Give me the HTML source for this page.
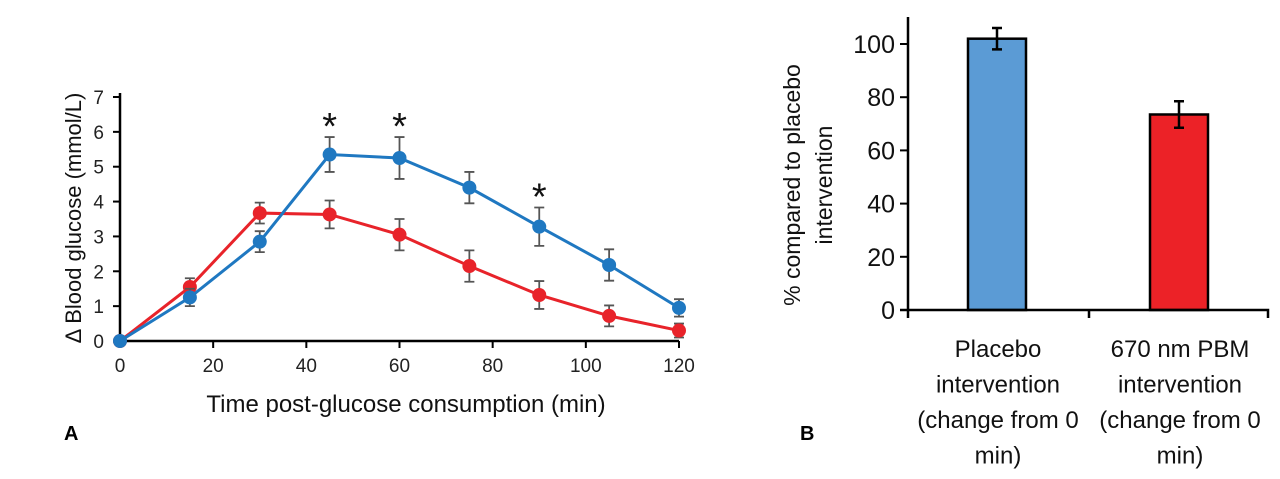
<!DOCTYPE html>
<html><head><meta charset="utf-8"><style>
body{margin:0;background:#fff;}
svg{display:block;font-family:"Liberation Sans",sans-serif;}
</style></head><body>
<svg id="c" width="1280" height="479"></svg>
<script>
const times=[0,15,30,45,60,75,90,105,120];
const placebo=[0,1.25,2.85,5.35,5.25,4.4,3.28,2.18,0.95];
const placeboErr=[0,0.25,0.3,0.5,0.6,0.45,0.55,0.45,0.25];
const pbm=[0,1.55,3.67,3.63,3.05,2.15,1.32,0.72,0.3];
const pbmErr=[0,0.25,0.3,0.4,0.45,0.45,0.4,0.3,0.2];
const sigTimes=[45,60,90];
const xTicksA=[0,20,40,60,80,100,120];
const yTicksA=[0,1,2,3,4,5,6,7];
const barCats=["Placebo","670 nm PBM"];
const barVals=[102,73.5];
const barErr=[4,5];
const yTicksB=[0,20,40,60,80,100];

const NS="http://www.w3.org/2000/svg";
const svg=document.getElementById('c');
function mk(t,a,txt,p){const e=document.createElementNS(NS,t);for(const k in a)e.setAttribute(k,a[k]);if(txt!=null)e.textContent=txt;(p||svg).appendChild(e);return e;}
const xA=v=>120+v*(679-120)/120;
const yA=v=>341-v*(341-97)/7;
const yB=v=>310-v*(310-44)/100;

// Chart A
let g=mk('g',{});


let ax=mk('path',{d:`M120 93V341H679`,stroke:'#000','stroke-width':2.5,fill:'none'},null,g);


yTicksA.forEach(v=>{mk('line',{x1:113,x2:120,y1:yA(v),y2:yA(v),stroke:'#000','stroke-width':2},null,g);
 const t=mk('text',{x:104,y:yA(v)+7,'text-anchor':'end','font-size':19,fill:'#222'},v,g);
 
 });
xTicksA.forEach(v=>{mk('line',{x1:xA(v),x2:xA(v),y1:341,y2:348,stroke:'#000','stroke-width':2},null,g);
 const t=mk('text',{x:xA(v),y:372,'text-anchor':'middle','font-size':19,fill:'#222'},v,g);
 
 });
let t1=mk('text',{x:406,y:412,'text-anchor':'middle','font-size':24,fill:'#111'},'Time post-glucose consumption (min)',g);


let t2=mk('text',{transform:'translate(81,218) rotate(-90)','text-anchor':'middle','font-size':22,fill:'#111'},'Δ Blood glucose (mmol/L)',g);


function series(vals,errs,col,name){
 errs.forEach((e,i)=>{if(!e)return;const x=xA(times[i]);
  mk('path',{d:`M${x} ${yA(vals[i]+e)}V${yA(vals[i]-e)}M${x-5} ${yA(vals[i]+e)}h10M${x-5} ${yA(vals[i]-e)}h10`,stroke:'#555','stroke-width':1.8,fill:'none'},null,g);});
 const l=mk('polyline',{points:vals.map((v,i)=>xA(times[i])+','+yA(v)).join(' '),stroke:col,'stroke-width':3,fill:'none'},null,g);
 
 
 vals.forEach((v,i)=>{const c=mk('circle',{cx:xA(times[i]),cy:yA(v),r:7,fill:col},null,g);
  
  });
}
series(pbm,pbmErr,'#e8232a','pbm');
series(placebo,placeboErr,'#1f78c1','placebo');
sigTimes.forEach(s=>{const i=times.indexOf(s);
 const a=mk('text',{x:xA(s),y:yA(placebo[i]+placeboErr[i])+2,'text-anchor':'middle','font-size':38,fill:'#111'},'*',g);
 
 });
let la=mk('text',{x:64,y:440,'font-size':20,'font-weight':'bold'},'A');



// Chart B
let h=mk('g',{});


const bx=[968,1150],bw=58;
barVals.forEach((v,i)=>{const r=mk('rect',{x:bx[i],y:yB(v),width:bw,height:310-yB(v),fill:i?'#ec2227':'#5b9bd5',stroke:'#000','stroke-width':2.5},null,h);
 
 
 const cx=bx[i]+bw/2,e=barErr[i];
 mk('path',{d:`M${cx} ${yB(v+e)}V${yB(v-e)}M${cx-5} ${yB(v+e)}h10M${cx-5} ${yB(v-e)}h10`,stroke:'#000','stroke-width':2.5,fill:'none'},null,h);});
let ab=mk('path',{d:'M908 17V318M900 310H1268V318M1089 310V318',stroke:'#000','stroke-width':2.5,fill:'none'},null,h);


yTicksB.forEach(v=>{mk('line',{x1:900,x2:908,y1:yB(v),y2:yB(v),stroke:'#000','stroke-width':2},null,h);
 const t=mk('text',{x:895,y:yB(v)+9,'text-anchor':'end','font-size':25,fill:'#111'},v,h);
 
 });
let yl=mk('text',{transform:'translate(800,185) rotate(-90)','text-anchor':'middle','font-size':23,fill:'#111'},null,h);


mk('tspan',{x:0,dy:0},'% compared to placebo',yl);
mk('tspan',{x:0,dy:32},'intervention',yl);
const cl=[["Placebo","intervention","(change from 0","min)"],["670 nm PBM","intervention","(change from 0","min)"]];
[998,1180].forEach((cx,i)=>{const t=mk('text',{x:cx,y:357,'text-anchor':'middle','font-size':24,fill:'#111'},null,h);
 
 
 cl[i].forEach((s,j)=>mk('tspan',{x:cx,y:357+j*35.5},s,t));});
let lb=mk('text',{x:800,y:440,'font-size':20,'font-weight':'bold'},'B');


</script>
</body></html>
